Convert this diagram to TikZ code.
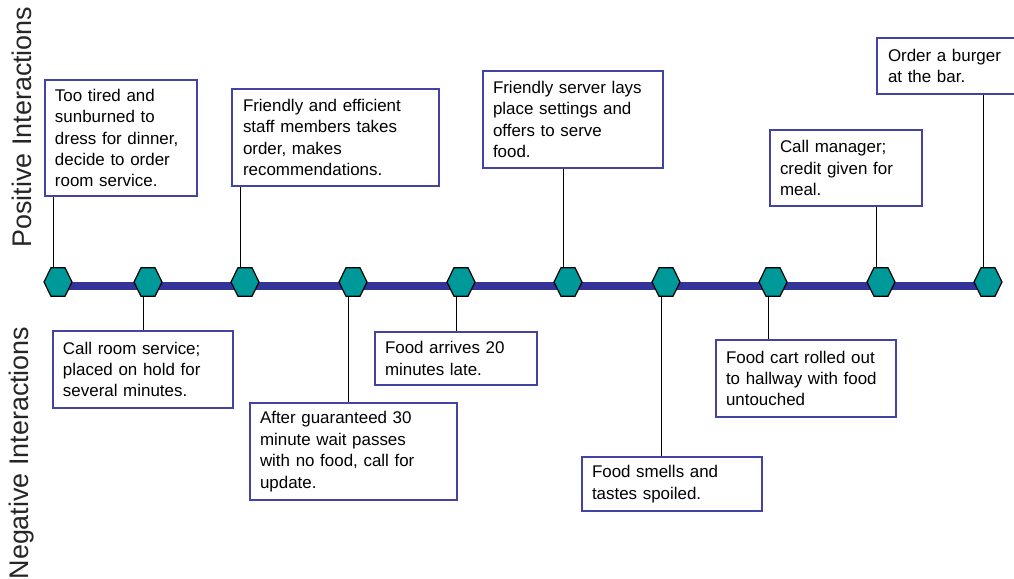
\documentclass[tikz,border=0pt]{standalone}
\usepackage{fontspec}
\setmainfont{Liberation Sans}
\usetikzlibrary{shapes.geometric,backgrounds}
\definecolor{tlblue}{HTML}{333399}
\definecolor{boxblue}{HTML}{4343A3}
\definecolor{hexteal}{HTML}{009999}
\begin{document}
\begin{tikzpicture}[x=1bp,y=-1bp,
  hexnode/.style={regular polygon, regular polygon sides=6, minimum size=28bp,
    inner sep=0pt, draw=black, line width=1.2bp, fill=hexteal, yscale=1.18, transform shape},
  evbox/.style={draw=boxblue, line width=1.8bp, fill=white, align=left, inner sep=0pt,
    font=\fontsize{17}{21.5}\selectfont},
  link/.style={draw=black, line width=1.5bp},
  axislabel/.style={rotate=90, inner sep=0pt, font=\fontsize{27}{31}\selectfont, text=black!85}]
\useasboundingbox (0,0) rectangle (1014,579);

% axis labels
\node[axislabel] (pos) at (22,127) {Positive Interactions};
\node[axislabel] (neg) at (22,453) {Negative Interactions};

% timeline markers
\foreach \x [count=\i] in {58,148,245,353,461,568,666,773,881,988}
  \node[hexnode] (h\i) at (\x,282) {};
\foreach \i in {1,...,10}
  \coordinate (c\i) at ([xshift=-4.5bp]h\i.center);

% positive boxes
\node[evbox, minimum width=152bp, minimum height=116bp, text width=132bp] (p1) at (121,138)
  {Too tired and\\sunburned to\\dress for dinner,\\decide to order\\room service.};
\node[evbox, minimum width=207bp, minimum height=97bp, text width=185bp] (p2) at (335.5,137.5)
  {Friendly and efficient\\staff members takes\\order, makes\\recommendations.};
\node[evbox, minimum width=180bp, minimum height=97bp, text width=160bp] (p3) at (573,119.5)
  {Friendly server lays\\place settings and\\offers to serve\\food.};
\node[evbox, minimum width=152bp, minimum height=76bp, text width=132bp] (p4) at (846,168)
  {Call manager;\\credit given for\\meal.};
\node[evbox, minimum width=147bp, minimum height=56bp, text width=125bp] (p5) at (950.5,66)
  {Order a burger\\at the bar.};

% negative boxes
\node[evbox, minimum width=180bp, minimum height=77bp, text width=160bp] (n1) at (143,369.5)
  {Call room service;\\placed on hold for\\several minutes.};
\node[evbox, minimum width=207bp, minimum height=97bp, text width=187bp] (n2) at (353.5,451.5)
  {After guaranteed 30\\minute wait passes\\with no food, call for\\update.};
\node[evbox, minimum width=162bp, minimum height=53bp, text width=142bp] (n3) at (456,358.5)
  {Food arrives 20\\minutes late.};
\node[evbox, minimum width=180bp, minimum height=54bp, text width=160bp] (n4) at (672,484)
  {Food smells and\\tastes spoiled.};
\node[evbox, minimum width=180bp, minimum height=77bp, text width=160bp] (n5) at (806,378.5)
  {Food cart rolled out\\to hallway with food\\untouched};

\begin{scope}[on background layer]
  \draw[tlblue, line width=8bp] ([yshift=-4bp]h1.center) -- ([yshift=-4bp]h10.center);
  \draw[link] (c1) -- (c1 |- p1.south);
  \draw[link] (c3) -- (c3 |- p2.south);
  \draw[link] (c6) -- (c6 |- p3.south);
  \draw[link] (c9) -- (c9 |- p4.south);
  \draw[link] (c10) -- (c10 |- p5.south);
  \draw[link] (c2) -- (c2 |- n1.north);
  \draw[link] (c4) -- (c4 |- n2.north);
  \draw[link] (c5) -- (c5 |- n3.north);
  \draw[link] (c7) -- (c7 |- n4.north);
  \draw[link] (c8) -- (c8 |- n5.north);
\end{scope}
\end{tikzpicture}
\end{document}
